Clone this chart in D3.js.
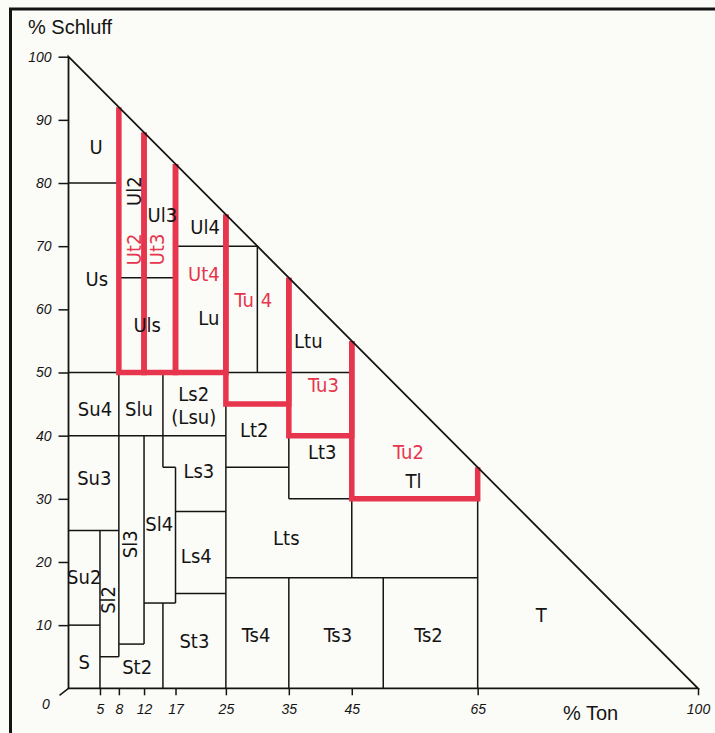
<!DOCTYPE html>
<html>
<head>
<meta charset="utf-8">
<script src="https://cdn.jsdelivr.net/npm/d3@7"></script>
<style>
  body { margin: 0; background: #fbfbf7; }
  svg { display: block; }
</style>
</head>
<body>
<svg class="soilTriangle"></svg>
<script>
// tick values of both axes
const tonTicks = [5, 8, 12, 17, 25, 35, 45, 65, 100];
const schluffTicks = [10, 20, 30, 40, 50, 60, 70, 80, 90, 100];

// horizontal class borders: [% Schluff, from % Ton, to % Ton]
const hBorders = [
    [5, 5, 8], [7, 8, 12], [10, 0, 5], [13.5, 12, 17], [15, 17, 25],
    [17.5, 25, 65], [25, 0, 8], [28, 17, 25], [30, 35, 65], [35, 15, 17],
    [35, 25, 35], [40, 0, 25], [40, 35, 45], [45, 25, 35], [50, 0, 45],
    [65, 8, 17], [70, 17, 30], [80, 0, 8]
];

// vertical class borders: [% Ton, from % Schluff, to % Schluff]
const vBorders = [
    [5, 0, 25], [8, 5, 92], [12, 7, 40], [12, 65, 88], [15, 0, 13.5],
    [15, 35, 50], [17, 13.5, 35], [17, 50, 83], [25, 0, 75], [30, 50, 70],
    [35, 0, 17.5], [35, 30, 65], [45, 17.5, 55], [50, 0, 17.5], [65, 0, 35]
];

// red groups (Ut / Tu), open outlines from hypotenuse to hypotenuse [% Ton, % Schluff]
const tuOutlines = [
    [[8, 92], [8, 50], [12, 50], [12, 88]],
    [[12, 88], [12, 50], [17, 50], [17, 83]],
    [[17, 83], [17, 50], [25, 50], [25, 75]],
    [[25, 75], [25, 45], [35, 45], [35, 65]],
    [[35, 65], [35, 40], [45, 40], [45, 55]],
    [[45, 55], [45, 30], [65, 30], [65, 35]]
];

// class names and where they sit: [name, % Ton, % Schluff]
const classLabels = [
    ["U", 4.4, 85.7], ["Us", 4.5, 64.9], ["Ul3", 14.9, 74.9], ["Ul4", 21.7, 73.0],
    ["Uls", 12.5, 57.5], ["Lu", 22.3, 58.6], ["Ltu", 38.1, 55.0], ["Lt2", 29.5, 40.9],
    ["Lt3", 40.3, 37.4], ["Tl", 54.8, 32.8], ["Su4", 4.2, 44.2], ["Slu", 11.2, 44.2],
    ["Ls2", 19.9, 46.6], ["(Lsu)", 19.9, 43.0], ["Su3", 4.1, 33.3], ["Ls3", 20.7, 34.4],
    ["Sl4", 14.4, 26.0], ["Su2", 2.5, 17.6], ["Ls4", 20.3, 20.9], ["Lts", 34.6, 23.9],
    ["S", 2.5, 4.2], ["St2", 10.9, 3.4], ["St3", 20.0, 7.6], ["Ts4", 29.8, 8.4],
    ["Ts3", 42.8, 8.4], ["Ts2", 57.2, 8.4], ["T", 75.1, 11.7]
];
const rotatedLabels = [["Ul2", 10.4, 78.7], ["Sl3", 9.7, 22.8], ["Sl2", 6.25, 14.0]];
const tuLabels = [["Ut4", 21.5, 65.6], ["Tu3", 40.5, 48.0], ["Tu2", 54.0, 37.4]];
const tuRotatedLabels = [["Ut2", 10.4, 69.5], ["Ut3", 14.0, 69.5]];

const W = 715, H = 733;
const RED = "#e6354d";
const INK = "#141414";
const labelFont = "'DejaVu Sans Condensed', 'DejaVu Sans', sans-serif";
const axisFont = "'Liberation Sans', Arial, sans-serif";

const svg = d3.select(".soilTriangle")
    .attr("width", W)
    .attr("height", H);

const x = d3.scaleLinear().domain([0, 100]).range([68.5, 698]);
const y = d3.scaleLinear().domain([0, 100]).range([688.3, 56.7]);
const line = d3.line().x(d => x(d[0])).y(d => y(d[1]));

// frame of the scanned page
svg.append("rect")
    .attr("x", 10.5).attr("y", 9)
    .attr("width", W + 20).attr("height", H + 20)
    .attr("fill", "none")
    .attr("stroke", INK)
    .attr("stroke-width", 3);

// class borders
const borders = svg.append("g")
    .attr("stroke", INK)
    .attr("stroke-width", 1.5);

borders.selectAll(".h")
    .data(hBorders)
    .enter().append("line")
    .attr("x1", d => x(d[1])).attr("x2", d => x(d[2]))
    .attr("y1", d => y(d[0])).attr("y2", d => y(d[0]));

borders.selectAll(".v")
    .data(vBorders)
    .enter().append("line")
    .attr("x1", d => x(d[0])).attr("x2", d => x(d[0]))
    .attr("y1", d => y(d[1])).attr("y2", d => y(d[2]));

// red Ut / Tu outlines on top of the borders
svg.append("g")
    .selectAll("path")
    .data(tuOutlines)
    .enter().append("path")
    .attr("d", line)
    .attr("fill", "none")
    .attr("stroke", RED)
    .attr("stroke-width", 5.5);

// the triangle
svg.append("path")
    .datum([[0, 0], [100, 0], [0, 100]])
    .attr("d", d => line(d) + "Z")
    .attr("fill", "none")
    .attr("stroke", INK)
    .attr("stroke-width", 1.8);

// X axis (% Ton)
const xAxis = svg.append("g")
    .attr("transform", `translate(0,${y(0)})`)
    .call(d3.axisBottom(x).tickValues(tonTicks).tickSize(7).tickPadding(9).tickSizeOuter(0));
xAxis.select(".domain").remove();

// Y axis (% Schluff)
const yAxis = svg.append("g")
    .attr("transform", `translate(${x(0)},0)`)
    .call(d3.axisLeft(y).tickValues(schluffTicks).tickSize(10).tickPadding(7).tickSizeOuter(0));
yAxis.select(".domain").remove();

svg.selectAll(".tick line")
    .attr("stroke", INK)
    .attr("stroke-width", 1.5);
svg.selectAll(".tick text")
    .attr("fill", INK)
    .style("font-family", axisFont)
    .style("font-style", "italic")
    .style("font-size", "14px");

// origin tick and label
svg.append("line")
    .attr("x1", x(0)).attr("y1", y(0))
    .attr("x2", x(0) - 9).attr("y2", y(0) + 7)
    .attr("stroke", INK)
    .attr("stroke-width", 1.5);
svg.append("text")
    .attr("x", 46).attr("y", 709)
    .attr("text-anchor", "middle")
    .attr("fill", INK)
    .style("font-family", axisFont)
    .style("font-style", "italic")
    .style("font-size", "14px")
    .text("0");

// axis titles
svg.append("text")
    .attr("x", 28).attr("y", 34)
    .attr("fill", INK)
    .style("font-family", axisFont)
    .style("font-size", "20px")
    .text("% Schluff");
svg.append("text")
    .attr("x", 563).attr("y", 720)
    .attr("fill", INK)
    .style("font-family", axisFont)
    .style("font-size", "20px")
    .text("% Ton");

// class labels
function addLabels(data, color, rotate) {
    svg.append("g")
        .selectAll("text")
        .data(data)
        .enter().append("text")
        .attr("transform", d => `translate(${x(d[1])},${y(d[2])})` + (rotate ? " rotate(-90)" : ""))
        .attr("text-anchor", "middle")
        .attr("dy", "0.36em")
        .attr("fill", color)
        .style("font-family", labelFont)
        .style("font-size", "20px")
        .text(d => d[0]);
}
addLabels(classLabels, INK, false);
addLabels(rotatedLabels, INK, true);
addLabels(tuLabels, RED, false);
addLabels(tuRotatedLabels, RED, true);

// Tu4 is split by the Lu border at 30 % Ton
const tu4 = svg.append("text")
    .attr("y", y(61.5))
    .attr("dy", "0.36em")
    .attr("fill", RED)
    .style("font-family", labelFont)
    .style("font-size", "20px");
tu4.append("tspan").text("Tu");
tu4.append("tspan").attr("dx", 7).text("4");
const tuWidth = tu4.node().getSubStringLength(0, 2);
tu4.attr("x", x(30) - 3.5 - tuWidth);
</script>
</body>
</html>
